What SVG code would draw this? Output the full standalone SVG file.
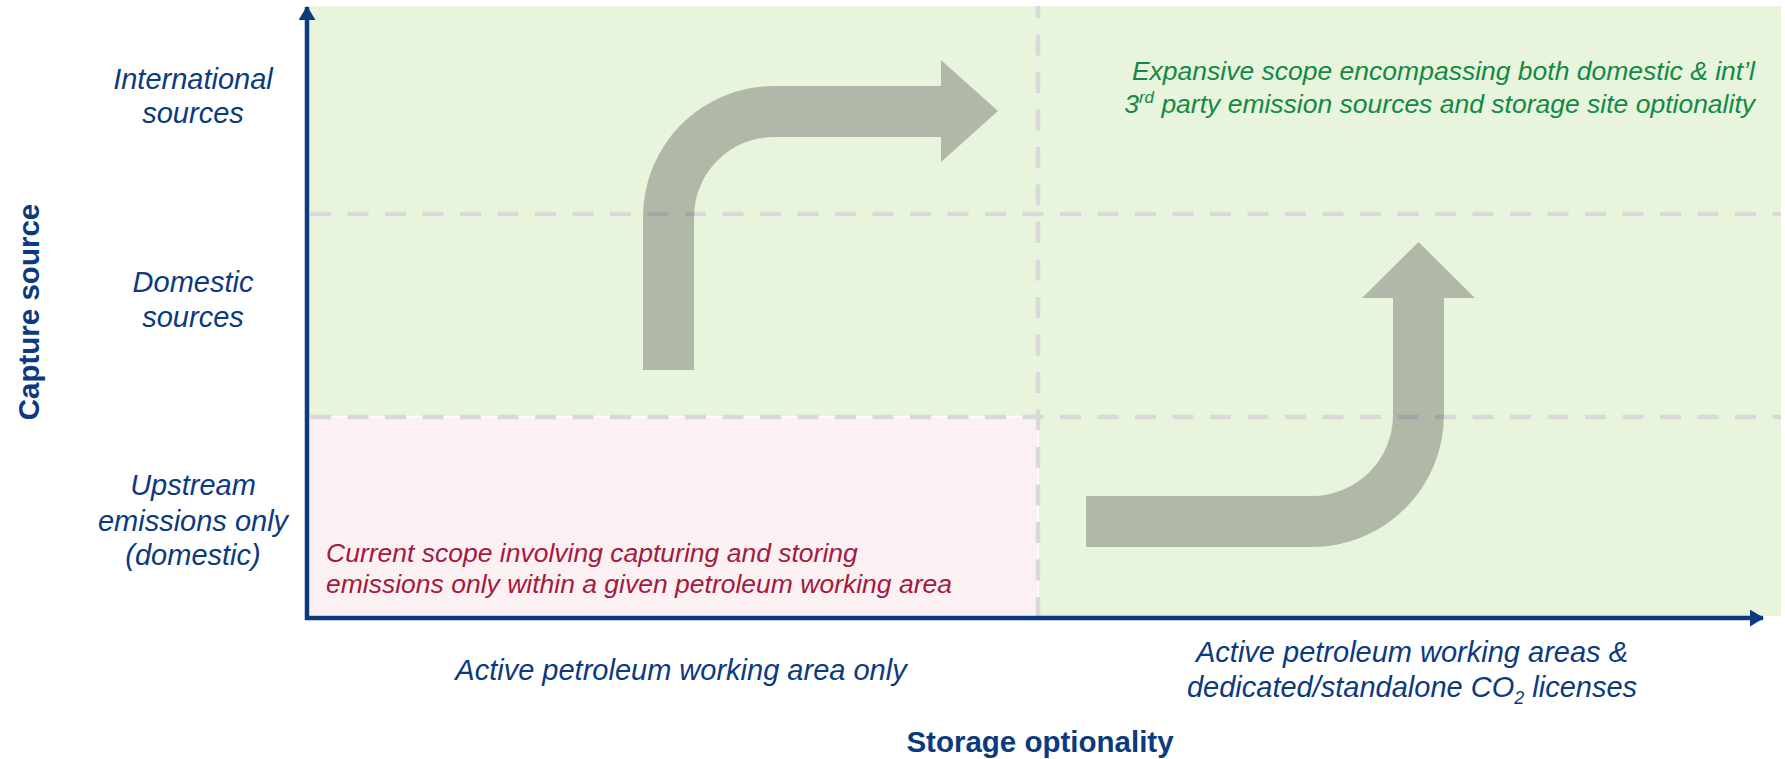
<svg xmlns="http://www.w3.org/2000/svg" width="1785" height="759" viewBox="0 0 1785 759">
<style>
.lbl{font-family:"Liberation Sans",Arial,sans-serif;font-style:italic;font-size:29px;fill:#0b3a7e;text-anchor:middle}
.ttl{font-family:"Liberation Sans",Arial,sans-serif;font-weight:bold;font-size:29.5px;fill:#0b3a7e;text-anchor:middle}
.red{font-family:"Liberation Sans",Arial,sans-serif;font-style:italic;font-size:26.5px;fill:#a5193e}
.grn{font-family:"Liberation Sans",Arial,sans-serif;font-style:italic;font-size:26.5px;fill:#128a46;text-anchor:end}
.dash{stroke:#d9d9d9;stroke-width:4.5;stroke-dasharray:21 16.5;fill:none}
.bend{fill:#000;fill-opacity:0.24}
.axis{stroke:#0b3a7e;stroke-width:4.5;fill:none}
</style>
<defs>
<marker id="ah" viewBox="0 0 14 17" refX="13" refY="8.5" markerWidth="14" markerHeight="17" markerUnits="userSpaceOnUse" orient="auto">
<path d="M0 0 L14 8.5 L0 17 Z" fill="#0b3a7e"/>
</marker>
</defs>
<rect width="1785" height="759" fill="#ffffff"/>
<g id="quadrants">
<rect x="309" y="6" width="1472" height="610" fill="#e8f4dc"/>
<rect x="309" y="417" width="729" height="199" fill="#fcf1f2" stroke="#ffffff" stroke-width="1.5"/>
</g>
<g id="gridlines">
<line class="dash" x1="310" y1="214" x2="1781" y2="214"/>
<line class="dash" x1="310" y1="417" x2="1781" y2="417"/>
<line class="dash" x1="1038" y1="6" x2="1038" y2="616" stroke-dashoffset="9"/>
</g>
<g id="connectors">
<path id="arrow-up-right" class="bend" d="M643 370 L643 217 A131 131 0 0 1 774 86 L941 86 L941 60 L998 111 L941 162 L941 137 L774 137 A80 80 0 0 0 694 217 L694 370 Z"/>
<path id="arrow-right-up" class="bend" d="M1086 496 L1312 496 A81 81 0 0 0 1393 415 L1393 298 L1362 298 L1418.5 242 L1475 298 L1444 298 L1444 415 A132 132 0 0 1 1312 547 L1086 547 Z"/>
</g>
<g id="axes">
<line class="axis" x1="307" y1="620" x2="307" y2="7" marker-end="url(#ah)"/>
<line class="axis" x1="305" y1="618" x2="1763" y2="618" marker-end="url(#ah)"/>
</g>
<g id="y-labels">
<text class="lbl" x="193" y="89">International</text>
<text class="lbl" x="193" y="123">sources</text>
<text class="lbl" x="193" y="292">Domestic</text>
<text class="lbl" x="193" y="327">sources</text>
<text class="lbl" x="193" y="495">Upstream</text>
<text class="lbl" x="193" y="531">emissions only</text>
<text class="lbl" x="193" y="565">(domestic)</text>
<text class="ttl" transform="translate(39 312) rotate(-90)" x="0" y="0">Capture source</text>
</g>
<g id="x-labels">
<text class="lbl" x="681" y="680">Active petroleum working area only</text>
<text class="lbl" x="1412" y="662">Active petroleum working areas &amp;</text>
<text class="lbl" x="1412" y="697">dedicated/standalone CO<tspan dy="7" font-size="18">2</tspan><tspan dy="-7"> licenses</tspan></text>
<text class="ttl" x="1040" y="752">Storage optionality</text>
</g>
<g id="current-scope">
<text class="red" x="326" y="562">Current scope involving capturing and storing</text>
<text class="red" x="326" y="593">emissions only within a given petroleum working area</text>
</g>
<g id="expansive-scope">
<text class="grn" x="1755" y="80">Expansive scope encompassing both domestic &amp; int’l</text>
<text class="grn" x="1755" y="113">3<tspan dy="-10" font-size="17">rd</tspan><tspan dy="10"> party emission sources and storage site optionality</tspan></text>
</g>
</svg>
